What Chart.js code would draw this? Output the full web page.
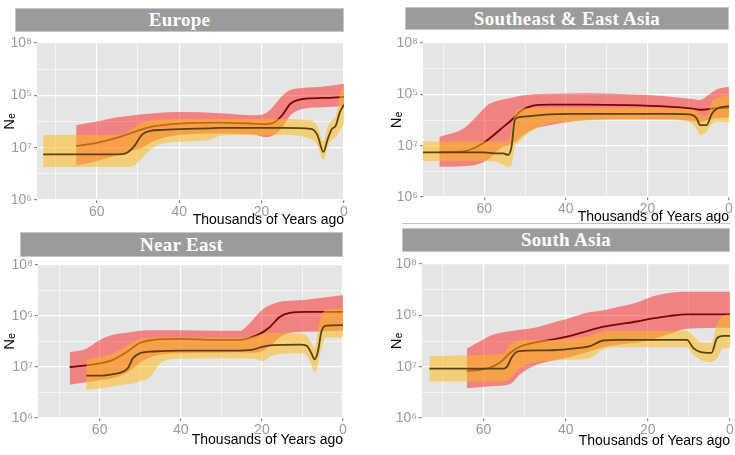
<!DOCTYPE html>
<html>
<head>
<meta charset="utf-8">
<script src="https://cdn.jsdelivr.net/npm/chart.js@4.4.1/dist/chart.umd.min.js"></script>
<style>
  html, body { margin: 0; padding: 0; background: #fff; }
  body { width: 735px; height: 455px; position: relative; overflow: hidden; font-family: "Liberation Sans", Arial, sans-serif; }
  canvas { position: absolute; }
  .strip { position: absolute; box-sizing: border-box; background: #9b9b9b; border: 1px solid #c6c6c6;
           color: #fff; font: bold 19px "Liberation Serif", "Times New Roman", serif;
           display: flex; align-items: center; justify-content: center; letter-spacing: 0.3px; }
  .rule { position: absolute; height: 1px; background: #c2c2c2; }
</style>
</head>
<body>
<canvas id="europe"></canvas>
<canvas id="seasia"></canvas>
<canvas id="neareast"></canvas>
<canvas id="southasia"></canvas>
<div class="rule" style="left:402px; top:223px; width:328px;"></div>
<div class="strip" style="left:15px; top:8px; width:329px; height:24px;">Europe</div>
<div class="strip" style="left:405px; top:7px; width:324px; height:23px;">Southeast &amp; East Asia</div>
<div class="strip" style="left:20px; top:232px; width:323px; height:25px;">Near East</div>
<div class="strip" style="left:402px; top:228px; width:328px; height:24px;">South Asia</div>
<script>
// ---- axis labels ----
const yTickLabels = ['10\u2076', '10\u2077', '10\u2075', '10\u2078'];
const xAxisTitle = 'Thousands of Years ago';
const yAxisTitle = 'N\u2091';

// ---- Europe ----
const europeRedYears = [65, 60, 55, 52, 49, 46, 40, 30, 22, 19, 17, 15, 13, 10, 5, 0];
const europeRedMid   = [1.03, 1.09, 1.19, 1.27, 1.35, 1.41, 1.46, 1.48, 1.46, 1.45, 1.48, 1.62, 1.84, 1.93, 1.95, 1.97];
const europeRedLow   = [0.66, 0.74, 0.86, 0.93, 1.00, 1.13, 1.24, 1.27, 1.25, 1.20, 1.24, 1.38, 1.62, 1.74, 1.77, 1.79];
const europeRedHigh  = [1.43, 1.50, 1.58, 1.61, 1.64, 1.66, 1.68, 1.66, 1.62, 1.66, 1.80, 1.99, 2.10, 2.14, 2.17, 2.22];
const europeGoldYears = [73, 65, 55, 53, 51, 49, 47, 44, 38, 33, 30, 25, 15, 8, 6.5, 5, 4, 3, 2, 1, 0];
const europeGoldMid   = [0.87, 0.87, 0.87, 0.89, 1.02, 1.25, 1.32, 1.34, 1.36, 1.37, 1.38, 1.38, 1.38, 1.36, 1.25, 0.92, 1.15, 1.35, 1.42, 1.68, 1.82];
const europeGoldLow   = [0.63, 0.63, 0.63, 0.63, 0.66, 0.80, 0.96, 1.08, 1.12, 1.14, 1.23, 1.24, 1.24, 1.16, 1.05, 0.77, 1.00, 1.15, 1.20, 1.32, 1.46];
const europeGoldHigh  = [1.24, 1.24, 1.24, 1.28, 1.38, 1.47, 1.52, 1.54, 1.55, 1.55, 1.55, 1.55, 1.55, 1.52, 1.42, 1.12, 1.40, 1.52, 1.60, 2.00, 2.23];

// ---- Southeast & East Asia ----
const seasiaRedYears = [71, 65, 62, 59, 56, 53, 51, 48, 44, 35, 25, 15, 9, 7, 5, 3, 0];
const seasiaRedMid   = [0.87, 0.89, 0.97, 1.12, 1.32, 1.52, 1.68, 1.78, 1.80, 1.80, 1.79, 1.76, 1.72, 1.70, 1.71, 1.73, 1.74];
const seasiaRedLow   = [0.59, 0.60, 0.63, 0.73, 0.95, 1.04, 1.17, 1.32, 1.40, 1.50, 1.52, 1.52, 1.48, 1.46, 1.50, 1.54, 1.55];
const seasiaRedHigh  = [1.17, 1.34, 1.56, 1.80, 1.89, 1.94, 1.97, 2.00, 2.01, 2.02, 2.00, 1.96, 1.91, 1.89, 1.99, 2.10, 2.15];
const seasiaGoldYears = [75, 60, 57, 55.4, 54.1, 53.3, 52.5, 51.7, 49.6, 44, 39, 25, 14.5, 9.6, 7.9, 7.1, 5.5, 4.2, 3, 0];
const seasiaGoldMid   = [0.87, 0.87, 0.85, 0.85, 0.82, 0.98, 1.50, 1.55, 1.57, 1.61, 1.62, 1.62, 1.62, 1.61, 1.53, 1.40, 1.40, 1.62, 1.72, 1.77];
const seasiaGoldLow   = [0.70, 0.70, 0.68, 0.63, 0.59, 0.62, 0.98, 1.05, 1.22, 1.43, 1.47, 1.51, 1.50, 1.46, 1.32, 1.21, 1.27, 1.42, 1.47, 1.45];
const seasiaGoldHigh  = [1.08, 1.08, 1.08, 1.08, 1.10, 1.30, 1.62, 1.71, 1.73, 1.74, 1.74, 1.74, 1.73, 1.71, 1.68, 1.60, 1.58, 1.85, 1.92, 1.98];

// ---- Near East ----
const neRedYears = [67.4, 63.3, 60, 56.7, 53.4, 50.1, 46.8, 40.3, 31.2, 25.5, 23, 20.5, 18.1, 15.6, 13.1, 9, 0];
const neRedMid   = [1.00, 1.03, 1.07, 1.14, 1.29, 1.47, 1.53, 1.55, 1.53, 1.53, 1.57, 1.65, 1.78, 1.98, 2.06, 2.08, 2.08];
const neRedLow   = [0.65, 0.70, 0.74, 0.78, 0.88, 1.08, 1.21, 1.27, 1.28, 1.29, 1.28, 1.29, 1.40, 1.58, 1.67, 1.69, 1.71];
const neRedHigh  = [1.29, 1.36, 1.53, 1.63, 1.67, 1.71, 1.72, 1.72, 1.71, 1.71, 1.86, 2.08, 2.21, 2.28, 2.30, 2.32, 2.41];
const neGoldYears = [63.3, 60, 56.7, 54.2, 53, 51.8, 50.1, 47.6, 45, 40, 27.1, 22.2, 19.7, 17.3, 10.7, 9, 7.8, 7, 6.2, 5.3, 4.1, 0];
const neGoldMid   = [0.83, 0.83, 0.86, 0.91, 0.98, 1.17, 1.27, 1.30, 1.31, 1.32, 1.32, 1.34, 1.40, 1.43, 1.44, 1.42, 1.27, 1.15, 1.30, 1.70, 1.81, 1.82];
const neGoldLow   = [0.55, 0.58, 0.62, 0.65, 0.66, 0.67, 0.72, 0.80, 1.08, 1.16, 1.17, 1.16, 1.12, 1.23, 1.27, 1.23, 1.04, 0.90, 1.04, 1.37, 1.58, 1.58];
const neGoldHigh  = [1.14, 1.19, 1.27, 1.37, 1.43, 1.49, 1.55, 1.58, 1.58, 1.58, 1.57, 1.60, 1.65, 1.67, 1.65, 1.62, 1.47, 1.37, 1.70, 2.02, 2.12, 2.15];

// ---- South Asia ----
const saRedYears = [64.1, 60.8, 58.4, 56, 53.5, 51.1, 47, 43, 38.9, 34.9, 30.8, 26.8, 22.7, 18.7, 14.6, 10.5, 0];
const saRedMid   = [0.92, 0.94, 0.98, 1.08, 1.27, 1.39, 1.48, 1.53, 1.60, 1.69, 1.78, 1.83, 1.88, 1.94, 1.99, 2.02, 2.02];
const saRedLow   = [0.58, 0.60, 0.62, 0.63, 0.66, 0.85, 1.04, 1.12, 1.19, 1.28, 1.38, 1.43, 1.47, 1.54, 1.64, 1.74, 1.76];
const saRedHigh  = [1.35, 1.50, 1.60, 1.66, 1.69, 1.72, 1.77, 1.86, 1.95, 2.05, 2.10, 2.17, 2.25, 2.37, 2.44, 2.46, 2.46];
const saGoldYears = [73.2, 55.1, 54.3, 53.1, 51.9, 50.3, 43, 37.3, 34.1, 30.8, 26.8, 10.5, 8.9, 7.3, 4.5, 3.2, 1.6, 0];
const saGoldMid   = [0.96, 0.96, 1.00, 1.19, 1.29, 1.31, 1.32, 1.36, 1.40, 1.51, 1.52, 1.52, 1.36, 1.29, 1.27, 1.55, 1.60, 1.60];
const saGoldLow   = [0.71, 0.71, 0.73, 0.80, 0.92, 1.02, 1.12, 1.14, 1.17, 1.34, 1.38, 1.38, 1.23, 1.14, 1.09, 1.16, 1.36, 1.36];
const saGoldHigh  = [1.21, 1.25, 1.36, 1.45, 1.50, 1.52, 1.52, 1.56, 1.60, 1.69, 1.70, 1.70, 1.59, 1.48, 1.46, 1.82, 1.99, 2.02];

// ---- styling ----
const RED_BAND = 'rgba(255, 0, 0, 0.43)';
const GOLD_BAND = 'rgba(253, 186, 27, 0.54)';
const RED_LINE = '#7a0505';
const GOLD_LINE = '#5c420c';
const PANEL_BG = '#e5e5e5';
const TICK_COLOR = '#9a9a9a';
const FONT_FAMILY = '"Liberation Sans", Arial, sans-serif';
const TICK_FONT = { family: FONT_FAMILY, size: 14 };
const X_TITLE_SIZE = 14;

const panelBackground = {
  id: 'panelBackground',
  beforeDraw(chart) {
    const { ctx, chartArea: a } = chart;
    ctx.save();
    ctx.fillStyle = PANEL_BG;
    ctx.fillRect(a.left, a.top, a.right - a.left, a.bottom - a.top);
    ctx.restore();
  }
};

// right-aligned x-axis caption under the tick labels (the axis runs right to left)
const xCaption = {
  id: 'xCaption',
  afterDraw(chart, args, opts) {
    const { ctx, chartArea: a } = chart;
    ctx.save();
    ctx.font = X_TITLE_SIZE + 'px ' + FONT_FAMILY;
    ctx.fillStyle = '#000';
    ctx.textAlign = 'right';
    ctx.textBaseline = 'middle';
    ctx.fillText(opts.text, a.right, opts.y);
    ctx.restore();
  }
};

function points(years, values) {
  return years.map((yr, i) => ({ x: yr, y: values[i] }));
}

function bandAndLine(years, low, high, mid, bandColor, lineColor, baseOrder) {
  const common = { pointRadius: 0, pointHoverRadius: 0, cubicInterpolationMode: 'monotone' };
  return [
    Object.assign({ data: points(years, low), borderWidth: 0, borderColor: 'transparent', fill: false, order: baseOrder + 2 }, common),
    Object.assign({ data: points(years, high), borderWidth: 0, borderColor: 'transparent', backgroundColor: bandColor, fill: '-1', order: baseOrder + 1 }, common),
    Object.assign({ data: points(years, mid), borderWidth: 1.8, borderColor: lineColor, fill: false, order: baseOrder }, common)
  ];
}

// layout: canvas box, plot rectangle (left, top, right, bottom), axis title centres
const panels = [
  { id: 'europe', box: [0, 28, 365, 202], plot: [37, 43, 344, 200], yTitleX: 10, xTitleY: 220, xMax: 74.5,
    red: [europeRedYears, europeRedLow, europeRedHigh, europeRedMid],
    gold: [europeGoldYears, europeGoldLow, europeGoldHigh, europeGoldMid] },
  { id: 'seasia', box: [372, 28, 363, 198], plot: [423, 43, 729, 197], yTitleX: 397, xTitleY: 217, xMax: 75,
    red: [seasiaRedYears, seasiaRedLow, seasiaRedHigh, seasiaRedMid],
    gold: [seasiaGoldYears, seasiaGoldLow, seasiaGoldHigh, seasiaGoldMid] },
  { id: 'neareast', box: [0, 250, 365, 205], plot: [38, 265, 343, 418], yTitleX: 10, xTitleY: 440, xMax: 75.2,
    red: [neRedYears, neRedLow, neRedHigh, neRedMid],
    gold: [neGoldYears, neGoldLow, neGoldHigh, neGoldMid] },
  { id: 'southasia', box: [372, 250, 363, 205], plot: [422, 264, 730, 418], yTitleX: 397, xTitleY: 441, xMax: 75,
    red: [saRedYears, saRedLow, saRedHigh, saRedMid],
    gold: [saGoldYears, saGoldLow, saGoldHigh, saGoldMid] }
];

panels.forEach(p => {
  const [cl, ct, cw, ch] = p.box;
  const [pl, pt, pr, pb] = p.plot;
  const canvas = document.getElementById(p.id);
  canvas.width = cw; canvas.height = ch;
  canvas.style.left = cl + 'px'; canvas.style.top = ct + 'px';
  canvas.style.width = cw + 'px'; canvas.style.height = ch + 'px';

  const yTitleHalf = 9;
  const xTitleHalf = X_TITLE_SIZE * 1.2 / 2;
  const yScaleLeft = p.yTitleX - yTitleHalf;
  const yAxisWidth = pl - yScaleLeft;
  const xAxisHeight = p.xTitleY + xTitleHalf - pb;

  const datasets = [
    ...bandAndLine(p.red[0], p.red[1], p.red[2], p.red[3], RED_BAND, RED_LINE, 4),
    ...bandAndLine(p.gold[0], p.gold[1], p.gold[2], p.gold[3], GOLD_BAND, GOLD_LINE, 1)
  ];

  new Chart(canvas, {
    type: 'line',
    data: { datasets },
    plugins: [panelBackground, xCaption],
    options: {
      responsive: false,
      animation: false,
      events: [],
      layout: { padding: { left: yScaleLeft - cl, top: pt - ct, right: cl + cw - pr, bottom: ct + ch - (p.xTitleY + xTitleHalf) } },
      plugins: {
        legend: { display: false },
        tooltip: { enabled: false },
        xCaption: { text: xAxisTitle, y: p.xTitleY - ct }
      },
      scales: {
        x: {
          type: 'linear', min: 0, max: p.xMax, reverse: true,
          afterBuildTicks: s => { s.ticks = [70, 60, 50, 40, 30, 20, 10, 0].map(v => ({ value: v })); },
          afterFit: s => { s.height = xAxisHeight; },
          border: { display: false },
          grid: {
            color: '#ffffff',
            lineWidth: c => (c.tick && c.tick.value % 20 === 0) ? 1.2 : 0.6,
            tickColor: c => (c.tick && c.tick.value % 20 === 0) ? '#8c8c8c' : 'transparent',
            tickLength: 3
          },
          ticks: {
            autoSkip: false, maxRotation: 0, padding: 1, color: TICK_COLOR, font: TICK_FONT,
            callback: v => (v % 20 === 0 ? String(v) : '')
          },
          title: { display: false }
        },
        y: {
          type: 'linear', min: 0, max: 3,
          afterBuildTicks: s => { s.ticks = [0, 0.5, 1, 1.5, 2, 2.5, 3].map(v => ({ value: v })); },
          afterFit: s => { s.width = yAxisWidth; },
          border: { display: false },
          grid: {
            color: '#ffffff',
            lineWidth: c => (c.tick && Number.isInteger(c.tick.value)) ? 1.2 : 0.6,
            tickColor: c => (c.tick && Number.isInteger(c.tick.value)) ? '#8c8c8c' : 'transparent',
            tickLength: 3
          },
          ticks: {
            autoSkip: false, padding: 2, color: TICK_COLOR, font: TICK_FONT,
            callback: v => (Number.isInteger(v) ? yTickLabels[v] : '')
          },
          title: { display: true, text: yAxisTitle, color: '#000', font: { family: FONT_FAMILY, size: 15, lineHeight: 1.2 }, padding: 0 }
        }
      }
    }
  });
});
</script>
</body>
</html>
